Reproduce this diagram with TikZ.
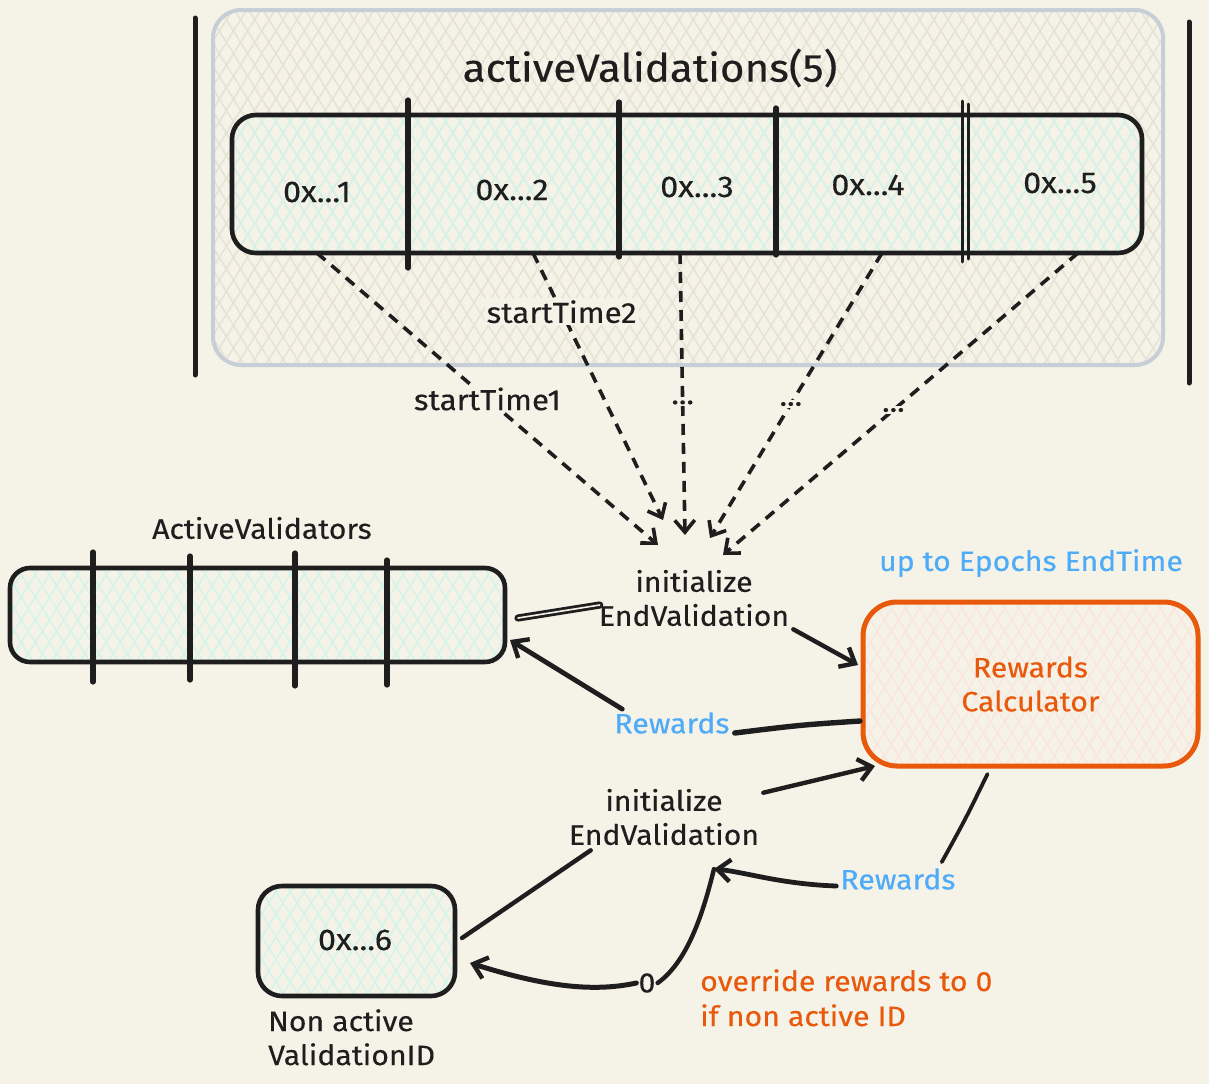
\documentclass[tikz,border=0pt]{standalone}
\usepackage{fontspec}
\setmainfont[FakeStretch=1.08,FakeBold=0.3]{Fira Sans}
\usetikzlibrary{arrows.meta,patterns.meta,calc}
\definecolor{bg}{RGB}{245,243,232}
\definecolor{ink}{RGB}{30,30,30}
\definecolor{mint}{RGB}{214,243,234}
\definecolor{conthatch}{RGB}{230,227,214}
\definecolor{contborder}{RGB}{200,206,214}
\definecolor{orng}{RGB}{232,89,12}
\definecolor{pinkhatch}{RGB}{250,230,223}
\definecolor{skyblue}{RGB}{77,171,247}
\tikzset{
  hatch/.style={
    preaction={pattern={Lines[angle=58,distance=12pt,line width=1.6pt]},pattern color=#1},
    preaction={pattern={Lines[angle=-58,distance=12pt,line width=1.6pt]},pattern color=#1}},
  container/.style={draw=contborder, line width=4pt, rounded corners=28pt, hatch=conthatch,
    minimum width=950pt, minimum height=355pt, inner sep=0pt, outer sep=0pt},
  cellbox/.style={draw=ink, line width=4.6pt, rounded corners=24pt, hatch=mint,
    inner sep=0pt, outer sep=0pt},
  calcbox/.style={draw=orng, line width=5pt, rounded corners=34pt, hatch=pinkhatch,
    minimum width=335pt, minimum height=164pt, inner sep=0pt, outer sep=0pt,
    text=orng, align=center, font=\fontsize{28}{34}\selectfont},
  bar/.style={draw=ink, line width=5pt, line cap=round},
  divider/.style={draw=ink, line width=5.2pt, line cap=round},
  lbl/.style={text=ink, font=\fontsize{28}{34}\selectfont, inner sep=2pt},
  celllbl/.style={text=ink, font=\fontsize{30}{34}\selectfont, inner sep=2pt},
  bluelbl/.style={text=skyblue, font=\fontsize{28}{34}\selectfont, inner sep=2pt},
  orglbl/.style={text=orng, font=\fontsize{28}{35}\selectfont, inner sep=0pt, align=left},
  titlelbl/.style={text=ink, font=\fontsize{39}{44}\selectfont},
  dashlbl/.style={text=ink, font=\fontsize{29}{32}\selectfont, fill=bg, inner sep=2pt},
  arr/.style={draw=ink, line width=4.4pt, line cap=round, line join=round,
    -{Straight Barb[length=13pt,width=22pt,line width=4.4pt]}},
  dasharr/.style={draw=ink, line width=3.6pt,
    dash pattern=on 11pt off 8pt,
    -{Straight Barb[length=12pt,width=20pt,line width=3.6pt]}},
  plain/.style={draw=ink, line width=4.4pt, line cap=round},
  dbl/.style={draw=ink, double=bg, double distance=1.6pt, line width=2.8pt, line cap=round},
}
\begin{document}
\begin{tikzpicture}[x=1pt,y=-1pt]
\fill[bg] (0,0) rectangle (1209,1084);
\useasboundingbox (0,0) rectangle (1209,1084);

% top container
\node[container] (cont) at (688,187.5) {};
\draw[bar] (195,18) -- (195,375);
\draw[bar] (1189,22) -- (1189,383);
\node[titlelbl] (ttl) at (650,68) {activeValidations(5)};

% array of active validations
\node[cellbox, minimum width=910pt, minimum height=138pt] (arr) at (687,184) {};
\draw[divider] (408,100) -- (408,268);
\draw[divider] (619,102) -- (619,257);
\draw[divider] (776,108) -- (776,255);
\draw[divider, line width=3pt] (962,101) -- (962,262);
\draw[divider, line width=3pt] (968,104) -- (968,259);
\node[celllbl] (c1) at (317,192) {0x...1};
\node[celllbl] (c2) at (512,190) {0x...2};
\node[celllbl] (c3) at (697,187) {0x...3};
\node[celllbl] (c4) at (868,185) {0x...4};
\node[celllbl] (c5) at (1060,183) {0x...5};

% first initialize label
\node[lbl, align=center] (init1) at (694,598) {initialize\\EndValidation};

\coordinate (e1) at (658,545);
\coordinate (e2) at (663,520);
\coordinate (e3) at (685,535);
\coordinate (e4) at (710,538);
\coordinate (e5) at (723,555);

\draw[dasharr] (c1 |- arr.south) -- node[dashlbl, pos=0.5] (st1) {startTime1} (e1);
\draw[dasharr] ($(c2 |- arr.south)+(21,0)$) -- node[dashlbl, pos=0.22] (st2) {startTime2} (e2);
\draw[dasharr] ($(c3 |- arr.south)+(-17,0)$) -- node[dashlbl, pos=0.53] (d3) {...} (e3);
\draw[dasharr] ($(c4 |- arr.south)+(14,0)$) -- node[dashlbl, pos=0.53] (d4) {...} (e4);
\draw[dasharr] ($(c5 |- arr.south)+(18,0)$) -- node[dashlbl, pos=0.52] (d5) {...} (e5);

% ActiveValidators
\node[lbl] (avt) at (262,528) {ActiveValidators};
\node[cellbox, rounded corners=20pt, minimum width=495pt, minimum height=94pt] (av) at (257.5,615) {};
\draw[divider] (93,552) -- (93,682);
\draw[divider] (190,556) -- (190,680);
\draw[divider] (295,553) -- (295,686);
\draw[divider] (387,560) -- (387,685);

% Rewards calculator
\node[calcbox] (rc) at (1030.5,684) {Rewards\\Calculator};
\node[bluelbl] (ep) at (1031,563) {up to Epochs EndTime};

% connectors around init1
\draw[dbl] ($(av.east)+(13,3)$) -- ($(init1.west)+(3,7)$);
\draw[arr] ($(init1.south east)+(2,1)$) -- ($(rc.west)+(-5,-19)$);

% rewards back to active validators
\node[bluelbl] (rw1) at (672,723) {Rewards};
\draw[draw=ink, line width=5.4pt, line cap=round] ($(rc.west)+(-3,37)$) .. controls (800,725) .. ($(rw1.east)+(3,10)$);
\draw[arr, line width=4.8pt] ($(rw1.north west)+(10,-1)$) -- ($(av.east)+(5,25)$);

% second initialize label and non active validator
\node[lbl, align=center] (init2) at (664,817) {initialize\\EndValidation};
\node[cellbox, minimum width=197pt, minimum height=110pt] (box6) at (356.5,941) {};
\node[celllbl] (c6) at (355,940) {0x...6};
\node[lbl, align=left, anchor=north west, inner sep=0pt] (nav) at (268,1009) {Non active\\ValidationID};

\draw[plain] ($(box6.east)+(7,-3)$) -- ($(init2.south west)+(24,3)$);
\draw[arr] ($(init2.north east)+(2,6)$) -- ($(rc.south west)+(12,0)$);

% rewards to the second label
\node[bluelbl] (rw2) at (898,879) {Rewards};
\draw[plain, line width=3.8pt] ($(rc.south)+(-43,8)$) .. controls (965,820) .. ($(rw2.north east)+(-16,-4)$);
\coordinate (mj) at (714,869);
\draw[arr, line width=4.8pt] ($(rw2.west)+(-2,7)$) .. controls (780,884) and (745,872) .. (mj);

% zero override
\node[lbl] (zero) at (647,983) {0};
\draw[plain, line width=4.4pt] (zero.east) .. controls (690,960) and (705,905) .. (mj);
\draw[arr, line width=5pt] (zero.west) .. controls (590,993) and (540,985) .. ($(box6.east)+(15,22)$);

\node[orglbl, anchor=north west] (ovr) at (700,969) {override rewards to 0\\if non active ID};
\end{tikzpicture}
\end{document}
